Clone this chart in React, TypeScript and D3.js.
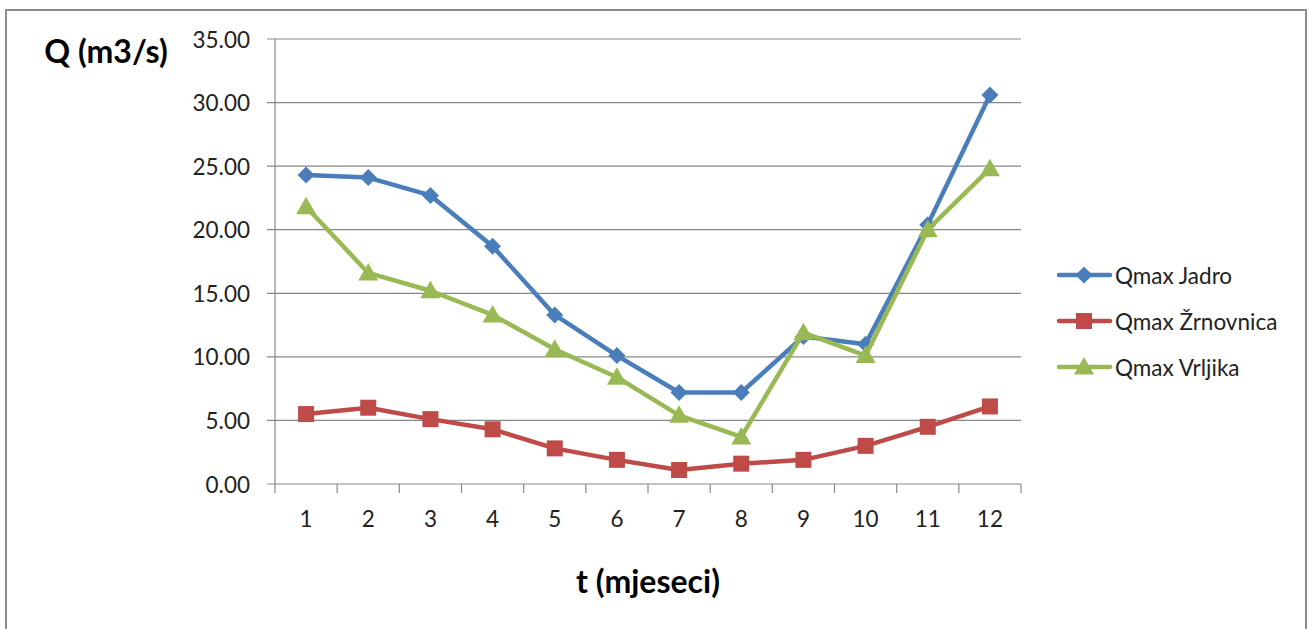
import { useEffect } from "react";
import * as d3 from "d3";

const months = ["1", "2", "3", "4", "5", "6", "7", "8", "9", "10", "11", "12"];
const jadro = [24.3, 24.1, 22.7, 18.7, 13.3, 10.1, 7.2, 7.2, 11.6, 11.0, 20.4, 30.6];
const zrnovnica = [5.5, 6.0, 5.1, 4.3, 2.8, 1.9, 1.1, 1.6, 1.9, 3.0, 4.5, 6.1];
const vrljika = [21.8, 16.6, 15.2, 13.3, 10.6, 8.4, 5.4, 3.7, 11.9, 10.1, 20.0, 24.8];
const yTicks = [0, 5, 10, 15, 20, 25, 30, 35];

const seriesNames = ["Qmax Jadro", "Qmax Žrnovnica", "Qmax Vrljika"];
const seriesColors = ["#4a7ebb", "#be4b48", "#98b954"];
const seriesShapes = ["diamond", "square", "triangle"];

const W = 1311;
const H = 629;
const m = { left: 275, right: 1021, top: 39, bottom: 484 };
const font = "Lato, 'Open Sans', sans-serif";

function Marker({ shape, x, y, color }: { shape: string; x: number; y: number; color: string }) {
  if (shape === "diamond") {
    const r = 8.5;
    return <path d={`M${x},${y - r}L${x + r},${y}L${x},${y + r}L${x - r},${y}Z`} fill={color} />;
  }
  if (shape === "square") {
    const s = 16;
    return <rect x={x - s / 2} y={y - s / 2} width={s} height={s} fill={color} />;
  }
  const r = 10;
  return <path d={`M${x},${y - r}L${x + r},${y + r * 0.75}L${x - r},${y + r * 0.75}Z`} fill={color} />;
}

export default function App() {
  useEffect(() => {
    document.body.style.margin = "0";
  }, []);

  const x = d3.scaleBand().domain(months).range([m.left, m.right]);
  const y = d3.scaleLinear().domain([0, 35]).range([m.bottom, m.top]);
  const cx = (d: string) => (x(d) || 0) + x.bandwidth() / 2;

  const line = d3
    .line<number>()
    .x((_, i) => cx(months[i]))
    .y((d) => y(d));

  const allSeries = [jadro, zrnovnica, vrljika];
  const drawOrder = [1, 0, 2];
  const legendY = [275, 321, 367];

  return (
    <svg width={W} height={H} style={{ display: "block", background: "#fff" }} fontFamily={font}>
      <rect x={6} y={10} width={1300} height={640} fill="#fff" stroke="#8c8c8c" strokeWidth={2} />

      {/* gridlines + y ticks */}
      {yTicks.map((t) => (
        <g key={t}>
          <line x1={m.left - 8} x2={m.right} y1={y(t)} y2={y(t)} stroke="#878787" strokeWidth={1.2} />
          <text x={250} y={y(t)} textAnchor="end" dominantBaseline="central" fontSize={22.5} fill="#222">
            {t.toFixed(2)}
          </text>
        </g>
      ))}

      {/* axes */}
      <line x1={m.left} x2={m.left} y1={m.top} y2={m.bottom} stroke="#878787" strokeWidth={1.2} />
      {d3.range(months.length + 1).map((i) => {
        const xx = m.left + i * x.bandwidth();
        return <line key={i} x1={xx} x2={xx} y1={m.bottom} y2={m.bottom + 9} stroke="#878787" strokeWidth={1.2} />;
      })}
      {months.map((d) => (
        <text key={d} x={cx(d)} y={527} textAnchor="middle" fontSize={22.5} fill="#222">
          {d}
        </text>
      ))}

      {/* series */}
      {drawOrder.map((si) => (
        <g key={si}>
          <path d={line(allSeries[si]) || ""} fill="none" stroke={seriesColors[si]} strokeWidth={4.5} strokeLinejoin="round" />
          {allSeries[si].map((v, i) => (
            <Marker key={i} shape={seriesShapes[si]} x={cx(months[i])} y={y(v)} color={seriesColors[si]} />
          ))}
        </g>
      ))}

      {/* axis titles */}
      <text x={106} y={63} textAnchor="middle" fontSize={32} fontWeight="bold" fill="#000">
        Q (m3/s)
      </text>
      <text x={648} y={593} textAnchor="middle" fontSize={32} fontWeight="bold" fill="#000">
        t (mjeseci)
      </text>

      {/* legend */}
      {seriesNames.map((name, i) => (
        <g key={name}>
          <line x1={1059} x2={1110} y1={legendY[i]} y2={legendY[i]} stroke={seriesColors[i]} strokeWidth={4.5} strokeLinecap="round" />
          <Marker shape={seriesShapes[i]} x={1084} y={legendY[i]} color={seriesColors[i]} />
          <text x={1115} y={legendY[i]} dominantBaseline="central" fontSize={22.5} fill="#222">
            {name}
          </text>
        </g>
      ))}
    </svg>
  );
}
